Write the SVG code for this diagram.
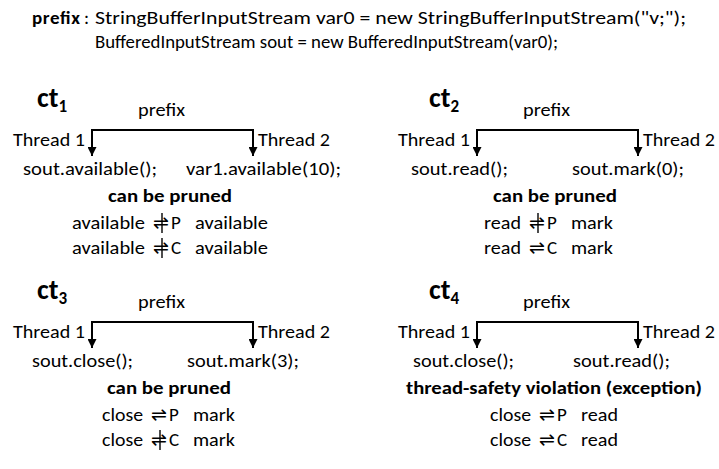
<svg xmlns="http://www.w3.org/2000/svg" width="719" height="469" viewBox="0 0 719 469">
<defs>
<style>
.t{font-family:Carlito,Lato,"Liberation Sans",sans-serif;font-size:19px;fill:#000}
.b{font-weight:bold}
.h{font-family:Carlito,Lato,"Liberation Sans",sans-serif;font-size:28px;font-weight:bold;fill:#000}
.sub{font-size:17px}
.sym{font-family:"DejaVu Sans",sans-serif;font-size:19px;fill:#000}
.neg{stroke:#000;stroke-width:1.4}
.br{fill:none;stroke:#000;stroke-width:2}
</style>
<marker id="ah" viewBox="0 0 10 10" refX="10" refY="5" markerUnits="userSpaceOnUse" markerWidth="9" markerHeight="9" orient="auto">
<path d="M0,0 L10,5 L0,10 z" fill="#000"/>
</marker>
</defs>
<rect width="719" height="469" fill="#fff"/>

<g id="header">
<text class="t" x="32" y="24"><tspan class="b" textLength="48">prefix</tspan></text>
<text class="t" x="84" y="24">:</text>
<text class="t" x="95" y="24" textLength="591" lengthAdjust="spacingAndGlyphs">StringBufferInputStream var0 = new StringBufferInputStream("v;");</text>
<text class="t" x="95" y="48" textLength="463" lengthAdjust="spacingAndGlyphs">BufferedInputStream sout = new BufferedInputStream(var0);</text>
</g>

<g id="connectors">
<g transform="translate(0,0)"><path class="br" d="M172,130 H92 V156" marker-end="url(#ah)"/><path class="br" d="M172,130 H253 V156" marker-end="url(#ah)"/></g>
<g transform="translate(385,0)"><path class="br" d="M172,130 H92 V156" marker-end="url(#ah)"/><path class="br" d="M172,130 H253 V156" marker-end="url(#ah)"/></g>
<g transform="translate(0,192)"><path class="br" d="M172,130 H92 V156" marker-end="url(#ah)"/><path class="br" d="M172,130 H253 V156" marker-end="url(#ah)"/></g>
<g transform="translate(385,192)"><path class="br" d="M172,130 H92 V156" marker-end="url(#ah)"/><path class="br" d="M172,130 H253 V156" marker-end="url(#ah)"/></g>
</g>

<g id="ct1">
<text class="h" x="37" y="107">ct<tspan class="sub" dy="5">1</tspan></text>
<text class="t" x="138" y="116" textLength="47" lengthAdjust="spacingAndGlyphs">prefix</text>
<text class="t" x="13" y="146" textLength="72" lengthAdjust="spacingAndGlyphs">Thread 1</text>
<text class="t" x="258" y="146" textLength="72" lengthAdjust="spacingAndGlyphs">Thread 2</text>
<text class="t" x="23" y="175" textLength="134" lengthAdjust="spacingAndGlyphs">sout.available();</text>
<text class="t" x="186" y="175" textLength="155" lengthAdjust="spacingAndGlyphs">var1.available(10);</text>
<text class="t b" x="108" y="202" textLength="124" lengthAdjust="spacingAndGlyphs">can be pruned</text>
<text class="t" x="72" y="229" textLength="73" lengthAdjust="spacingAndGlyphs">available</text>
<text class="sym" x="153" y="229">⇌</text><line class="neg" x1="162" y1="213" x2="162" y2="233"/>
<text class="t" x="171" y="229">P</text>
<text class="t" x="195" y="229" textLength="73" lengthAdjust="spacingAndGlyphs">available</text>
<text class="t" x="72" y="254" textLength="73" lengthAdjust="spacingAndGlyphs">available</text>
<text class="sym" x="153" y="254">⇌</text><line class="neg" x1="162" y1="238" x2="162" y2="258"/>
<text class="t" x="171" y="254">C</text>
<text class="t" x="195" y="254" textLength="73" lengthAdjust="spacingAndGlyphs">available</text>
</g>

<g id="ct2" transform="translate(385,0)">
<text class="h" x="44" y="107">ct<tspan class="sub" dy="5">2</tspan></text>
<text class="t" x="138" y="116" textLength="47" lengthAdjust="spacingAndGlyphs">prefix</text>
<text class="t" x="13" y="146" textLength="72" lengthAdjust="spacingAndGlyphs">Thread 1</text>
<text class="t" x="258" y="146" textLength="72" lengthAdjust="spacingAndGlyphs">Thread 2</text>
<text class="t" x="26" y="175" textLength="97" lengthAdjust="spacingAndGlyphs">sout.read();</text>
<text class="t" x="187" y="175" textLength="112" lengthAdjust="spacingAndGlyphs">sout.mark(0);</text>
<text class="t b" x="108" y="202" textLength="124" lengthAdjust="spacingAndGlyphs">can be pruned</text>
<text class="t" x="99" y="229" textLength="37" lengthAdjust="spacingAndGlyphs">read</text>
<text class="sym" x="144" y="229">⇌</text><line class="neg" x1="153" y1="213" x2="153" y2="233"/>
<text class="t" x="162" y="229">P</text>
<text class="t" x="186" y="229" textLength="42" lengthAdjust="spacingAndGlyphs">mark</text>
<text class="t" x="99" y="254" textLength="37" lengthAdjust="spacingAndGlyphs">read</text>
<text class="sym" x="144" y="254">⇌</text>
<text class="t" x="162" y="254">C</text>
<text class="t" x="186" y="254" textLength="42" lengthAdjust="spacingAndGlyphs">mark</text>
</g>

<g id="ct3" transform="translate(0,192)">
<text class="h" x="37" y="107">ct<tspan class="sub" dy="5">3</tspan></text>
<text class="t" x="138" y="116" textLength="47" lengthAdjust="spacingAndGlyphs">prefix</text>
<text class="t" x="13" y="146" textLength="72" lengthAdjust="spacingAndGlyphs">Thread 1</text>
<text class="t" x="258" y="146" textLength="72" lengthAdjust="spacingAndGlyphs">Thread 2</text>
<text class="t" x="32" y="175" textLength="101" lengthAdjust="spacingAndGlyphs">sout.close();</text>
<text class="t" x="187" y="175" textLength="112" lengthAdjust="spacingAndGlyphs">sout.mark(3);</text>
<text class="t b" x="107" y="202" textLength="124" lengthAdjust="spacingAndGlyphs">can be pruned</text>
<text class="t" x="102" y="229" textLength="41" lengthAdjust="spacingAndGlyphs">close</text>
<text class="sym" x="151" y="229">⇌</text>
<text class="t" x="169" y="229">P</text>
<text class="t" x="193" y="229" textLength="42" lengthAdjust="spacingAndGlyphs">mark</text>
<text class="t" x="102" y="254" textLength="41" lengthAdjust="spacingAndGlyphs">close</text>
<text class="sym" x="151" y="254">⇌</text><line class="neg" x1="160" y1="238" x2="160" y2="258"/>
<text class="t" x="169" y="254">C</text>
<text class="t" x="193" y="254" textLength="42" lengthAdjust="spacingAndGlyphs">mark</text>
</g>

<g id="ct4" transform="translate(385,192)">
<text class="h" x="44" y="107">ct<tspan class="sub" dy="5">4</tspan></text>
<text class="t" x="138" y="116" textLength="47" lengthAdjust="spacingAndGlyphs">prefix</text>
<text class="t" x="13" y="146" textLength="72" lengthAdjust="spacingAndGlyphs">Thread 1</text>
<text class="t" x="258" y="146" textLength="72" lengthAdjust="spacingAndGlyphs">Thread 2</text>
<text class="t" x="28" y="175" textLength="101" lengthAdjust="spacingAndGlyphs">sout.close();</text>
<text class="t" x="188" y="175" textLength="97" lengthAdjust="spacingAndGlyphs">sout.read();</text>
<text class="t b" x="21" y="202" textLength="296" lengthAdjust="spacingAndGlyphs">thread-safety violation (exception)</text>
<text class="t" x="105" y="229" textLength="41" lengthAdjust="spacingAndGlyphs">close</text>
<text class="sym" x="154" y="229">⇌</text>
<text class="t" x="172" y="229">P</text>
<text class="t" x="196" y="229" textLength="37" lengthAdjust="spacingAndGlyphs">read</text>
<text class="t" x="105" y="254" textLength="41" lengthAdjust="spacingAndGlyphs">close</text>
<text class="sym" x="154" y="254">⇌</text>
<text class="t" x="172" y="254">C</text>
<text class="t" x="196" y="254" textLength="37" lengthAdjust="spacingAndGlyphs">read</text>
</g>
</svg>
